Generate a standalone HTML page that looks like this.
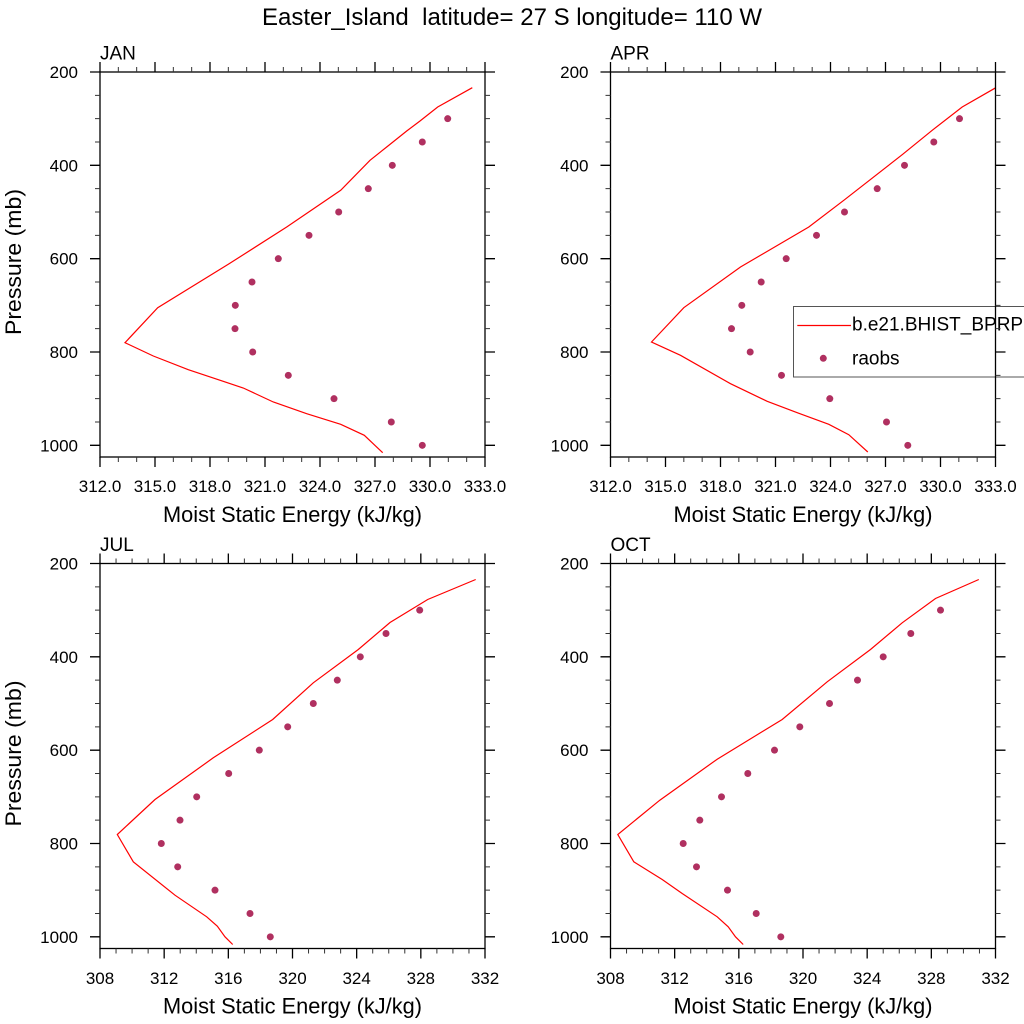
<!DOCTYPE html>
<html><head><meta charset="utf-8"><style>
html,body{margin:0;padding:0;background:#fff;}
svg{display:block;font-family:"Liberation Sans",Arial,sans-serif;}
</style></head><body>
<svg width="1024" height="1024" viewBox="0 0 1024 1024" xmlns="http://www.w3.org/2000/svg">
<defs>
<clipPath id="cp"><rect x="0" y="0" width="385" height="385"/></clipPath>
<g id="yt">
<path d="M0 23.33h-5M0 46.67h-5M0 70h-5M0 116.67h-5M0 140h-5M0 163.33h-5M0 210h-5M0 233.33h-5M0 256.67h-5M0 303.33h-5M0 326.67h-5M0 350h-5M385 23.33h5M385 46.67h5M385 70h5M385 116.67h5M385 140h5M385 163.33h5M385 210h5M385 233.33h5M385 256.67h5M385 303.33h5M385 326.67h5M385 350h5" stroke="#333" stroke-width="1" fill="none"/>
<path d="M0 0h-10M0 93.33h-10M0 186.67h-10M0 280h-10M0 373.33h-10M385 0h10M385 93.33h10M385 186.67h10M385 280h10M385 373.33h10" stroke="#000" stroke-width="1.3" fill="none"/>
</g>
<g id="xtA">
<path d="M18.33 0v-5M36.67 0v-5M73.33 0v-5M91.67 0v-5M128.33 0v-5M146.67 0v-5M183.33 0v-5M201.67 0v-5M238.33 0v-5M256.67 0v-5M293.33 0v-5M311.67 0v-5M348.33 0v-5M366.67 0v-5M18.33 385v5M36.67 385v5M73.33 385v5M91.67 385v5M128.33 385v5M146.67 385v5M183.33 385v5M201.67 385v5M238.33 385v5M256.67 385v5M293.33 385v5M311.67 385v5M348.33 385v5M366.67 385v5" stroke="#333" stroke-width="1" fill="none"/>
<path d="M0 0v-10M55 0v-10M110 0v-10M165 0v-10M220 0v-10M275 0v-10M330 0v-10M385 0v-10M0 385v10M55 385v10M110 385v10M165 385v10M220 385v10M275 385v10M330 385v10M385 385v10" stroke="#000" stroke-width="1.3" fill="none"/>
</g>
<g id="xtB">
<path d="M16.04 0v-5M32.08 0v-5M48.13 0v-5M80.21 0v-5M96.25 0v-5M112.29 0v-5M144.38 0v-5M160.42 0v-5M176.46 0v-5M208.54 0v-5M224.58 0v-5M240.63 0v-5M272.71 0v-5M288.75 0v-5M304.79 0v-5M336.88 0v-5M352.92 0v-5M368.96 0v-5M16.04 385v5M32.08 385v5M48.13 385v5M80.21 385v5M96.25 385v5M112.29 385v5M144.38 385v5M160.42 385v5M176.46 385v5M208.54 385v5M224.58 385v5M240.63 385v5M272.71 385v5M288.75 385v5M304.79 385v5M336.88 385v5M352.92 385v5M368.96 385v5" stroke="#333" stroke-width="1" fill="none"/>
<path d="M0 0v-10M64.17 0v-10M128.33 0v-10M192.5 0v-10M256.67 0v-10M320.83 0v-10M385 0v-10M0 385v10M64.17 385v10M128.33 385v10M192.5 385v10M256.67 385v10M320.83 385v10M385 385v10" stroke="#000" stroke-width="1.3" fill="none"/>
</g>
</defs>

<text x="512" y="25" font-size="24" text-anchor="middle" textLength="500" lengthAdjust="spacingAndGlyphs" xml:space="preserve">Easter_Island  latitude= 27 S longitude= 110 W</text>

<!-- JAN -->
<g transform="translate(100,72)">
<text x="0" y="-12.7" font-size="19">JAN</text>
<g clip-path="url(#cp)">
<polyline fill="none" stroke="#ff0000" stroke-width="1.2" points="372.3,15.7 337.7,35 320,49 306.7,59 286.7,75 270,88.3 240.7,118.3 186.7,155 128.3,192.3 57.7,235.7 25,270.7 53.3,284 88.3,297.7 143.3,316 173.3,330 206.7,341.7 240.7,352.3 264.3,363.3 282.7,380.7"/>
</g>
<g fill="#b03060">
<circle cx="347.7" cy="46.67" r="3.5"/><circle cx="322.3" cy="70" r="3.5"/><circle cx="292.3" cy="93.33" r="3.5"/><circle cx="268.3" cy="116.67" r="3.5"/><circle cx="238.7" cy="140" r="3.5"/><circle cx="209" cy="163.33" r="3.5"/><circle cx="178.3" cy="186.67" r="3.5"/><circle cx="152" cy="210" r="3.5"/><circle cx="135.3" cy="233.33" r="3.5"/><circle cx="135" cy="256.67" r="3.5"/><circle cx="152.7" cy="280" r="3.5"/><circle cx="188.3" cy="303.33" r="3.5"/><circle cx="234" cy="326.67" r="3.5"/><circle cx="291.3" cy="350" r="3.5"/><circle cx="322.3" cy="373.33" r="3.5"/>
</g>
<rect x="0" y="0" width="385" height="385" fill="none" stroke="#000" stroke-width="1.3"/>
<use href="#yt"/><use href="#xtA"/>
<g font-size="17" text-anchor="end">
<text x="-22" y="6">200</text><text x="-22" y="99.3">400</text><text x="-22" y="192.7">600</text><text x="-22" y="286">800</text><text x="-22" y="379.3">1000</text>
</g>
<g font-size="17" text-anchor="middle">
<text x="0" y="420">312.0</text><text x="55" y="420">315.0</text><text x="110" y="420">318.0</text><text x="165" y="420">321.0</text><text x="220" y="420">324.0</text><text x="275" y="420">327.0</text><text x="330" y="420">330.0</text><text x="385" y="420">333.0</text>
</g>
<text x="192.5" y="450" font-size="22" text-anchor="middle" textLength="259" lengthAdjust="spacingAndGlyphs">Moist Static Energy (kJ/kg)</text>
</g>

<!-- APR -->
<g transform="translate(610.5,72)">
<text x="0" y="-12.7" font-size="19">APR</text>
<g clip-path="url(#cp)">
<polyline fill="none" stroke="#ff0000" stroke-width="1.2" points="390,13 351.7,35 321.7,58.3 291.7,82.7 233.3,128.3 198.3,155 130,195 73.3,235.7 41,270 70,283.3 120,311.7 156.7,329.3 186.7,340.7 218.3,352.3 238.3,362.7 257.3,380"/>
</g>
<g fill="#b03060">
<circle cx="349" cy="46.67" r="3.5"/><circle cx="323.3" cy="70" r="3.5"/><circle cx="294" cy="93.33" r="3.5"/><circle cx="266.7" cy="116.67" r="3.5"/><circle cx="234" cy="140" r="3.5"/><circle cx="206" cy="163.33" r="3.5"/><circle cx="175.7" cy="186.67" r="3.5"/><circle cx="150.7" cy="210" r="3.5"/><circle cx="131.3" cy="233.33" r="3.5"/><circle cx="121" cy="256.67" r="3.5"/><circle cx="139.7" cy="280" r="3.5"/><circle cx="171" cy="303.33" r="3.5"/><circle cx="219.3" cy="326.67" r="3.5"/><circle cx="276" cy="350" r="3.5"/><circle cx="297.3" cy="373.33" r="3.5"/>
</g>
<g font-size="17" text-anchor="end">
<text x="-22" y="6">200</text><text x="-22" y="99.3">400</text><text x="-22" y="192.7">600</text><text x="-22" y="286">800</text><text x="-22" y="379.3">1000</text>
</g>
<g font-size="17" text-anchor="middle">
<text x="0" y="420">312.0</text><text x="55" y="420">315.0</text><text x="110" y="420">318.0</text><text x="165" y="420">321.0</text><text x="220" y="420">324.0</text><text x="275" y="420">327.0</text><text x="330" y="420">330.0</text><text x="385" y="420">333.0</text>
</g>
<text x="192.5" y="450" font-size="22" text-anchor="middle" textLength="259" lengthAdjust="spacingAndGlyphs">Moist Static Energy (kJ/kg)</text>
</g>

<!-- Legend -->
<rect x="793.5" y="306.5" width="240" height="70.5" fill="#fff" stroke="#555" stroke-width="1"/>
<line x1="797.3" y1="325.5" x2="851" y2="325.5" stroke="#ff0000" stroke-width="1.3"/>
<text x="852" y="330.5" font-size="19">b.e21.BHIST_BPRP</text>
<circle cx="823.3" cy="358.3" r="3.5" fill="#b03060"/>
<text x="852" y="364.5" font-size="19">raobs</text>

<g transform="translate(610.5,72)">
<rect x="0" y="0" width="385" height="385" fill="none" stroke="#000" stroke-width="1.3"/>
<use href="#yt"/><use href="#xtA"/>
</g>

<!-- JUL -->
<g transform="translate(100,563.5)">
<text x="0" y="-12.7" font-size="19">JUL</text>
<g clip-path="url(#cp)">
<polyline fill="none" stroke="#ff0000" stroke-width="1.2" points="375.7,16 327.7,36 290,59 258.3,86 213.3,119.3 172.7,156 113.3,194.3 55,236 17.3,271 33.3,298.3 75,331.7 106.7,353.3 117.3,362.7 125,373.3 132.7,381"/>
</g>
<g fill="#b03060">
<circle cx="319.7" cy="46.67" r="3.5"/><circle cx="286" cy="70" r="3.5"/><circle cx="260.3" cy="93.33" r="3.5"/><circle cx="237.3" cy="116.67" r="3.5"/><circle cx="213.3" cy="140" r="3.5"/><circle cx="187.7" cy="163.33" r="3.5"/><circle cx="159.3" cy="186.67" r="3.5"/><circle cx="128.7" cy="210" r="3.5"/><circle cx="96.7" cy="233.33" r="3.5"/><circle cx="80" cy="256.67" r="3.5"/><circle cx="61.3" cy="280" r="3.5"/><circle cx="77.7" cy="303.33" r="3.5"/><circle cx="115" cy="326.67" r="3.5"/><circle cx="150" cy="350" r="3.5"/><circle cx="170.3" cy="373.33" r="3.5"/>
</g>
<rect x="0" y="0" width="385" height="385" fill="none" stroke="#000" stroke-width="1.3"/>
<use href="#yt"/><use href="#xtB"/>
<g font-size="17" text-anchor="end">
<text x="-22" y="6">200</text><text x="-22" y="99.3">400</text><text x="-22" y="192.7">600</text><text x="-22" y="286">800</text><text x="-22" y="379.3">1000</text>
</g>
<g font-size="17" text-anchor="middle">
<text x="0" y="420.5">308</text><text x="64.17" y="420.5">312</text><text x="128.33" y="420.5">316</text><text x="192.5" y="420.5">320</text><text x="256.67" y="420.5">324</text><text x="320.83" y="420.5">328</text><text x="385" y="420.5">332</text>
</g>
<text x="192.5" y="450" font-size="22" text-anchor="middle" textLength="259" lengthAdjust="spacingAndGlyphs">Moist Static Energy (kJ/kg)</text>
</g>

<!-- OCT -->
<g transform="translate(610.5,563.5)">
<text x="0" y="-12.7" font-size="19">OCT</text>
<g clip-path="url(#cp)">
<polyline fill="none" stroke="#ff0000" stroke-width="1.2" points="368.3,16 325,35 291.7,59.3 260,86 216.7,118.3 171.7,156 106.7,195.7 49.3,236.7 7.3,271 23.3,298.3 51.7,316 71.7,330 106.7,353.3 117.7,363.3 125,373.3 132.7,381"/>
</g>
<g fill="#b03060">
<circle cx="330" cy="46.67" r="3.5"/><circle cx="300.3" cy="70" r="3.5"/><circle cx="272.7" cy="93.33" r="3.5"/><circle cx="247" cy="116.67" r="3.5"/><circle cx="219" cy="140" r="3.5"/><circle cx="189.3" cy="163.33" r="3.5"/><circle cx="164" cy="186.67" r="3.5"/><circle cx="137.3" cy="210" r="3.5"/><circle cx="111" cy="233.33" r="3.5"/><circle cx="89.3" cy="256.67" r="3.5"/><circle cx="72.7" cy="280" r="3.5"/><circle cx="86" cy="303.33" r="3.5"/><circle cx="117" cy="326.67" r="3.5"/><circle cx="145.7" cy="350" r="3.5"/><circle cx="170.3" cy="373.33" r="3.5"/>
</g>
<rect x="0" y="0" width="385" height="385" fill="none" stroke="#000" stroke-width="1.3"/>
<use href="#yt"/><use href="#xtB"/>
<g font-size="17" text-anchor="end">
<text x="-22" y="6">200</text><text x="-22" y="99.3">400</text><text x="-22" y="192.7">600</text><text x="-22" y="286">800</text><text x="-22" y="379.3">1000</text>
</g>
<g font-size="17" text-anchor="middle">
<text x="0" y="420.5">308</text><text x="64.17" y="420.5">312</text><text x="128.33" y="420.5">316</text><text x="192.5" y="420.5">320</text><text x="256.67" y="420.5">324</text><text x="320.83" y="420.5">328</text><text x="385" y="420.5">332</text>
</g>
<text x="192.5" y="450" font-size="22" text-anchor="middle" textLength="259" lengthAdjust="spacingAndGlyphs">Moist Static Energy (kJ/kg)</text>
</g>

<!-- Y axis titles -->
<text transform="translate(21,262) rotate(-90)" font-size="22" text-anchor="middle" textLength="146" lengthAdjust="spacingAndGlyphs">Pressure (mb)</text>
<text transform="translate(21,753.5) rotate(-90)" font-size="22" text-anchor="middle" textLength="146" lengthAdjust="spacingAndGlyphs">Pressure (mb)</text>
</svg>
</body></html>
